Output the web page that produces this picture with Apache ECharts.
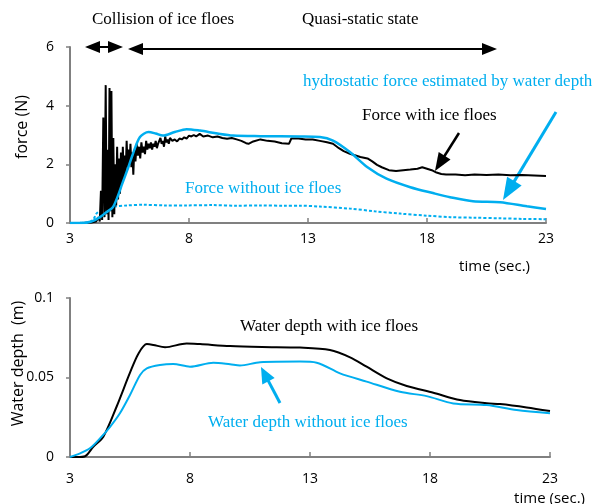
<!DOCTYPE html>
<html>
<head>
<meta charset="utf-8">
<script src="https://cdn.jsdelivr.net/npm/echarts@6/dist/echarts.min.js"></script>
<style>
  html, body { margin: 0; padding: 0; background: #fff; }
  #main { width: 600px; height: 504px; }
</style>
</head>
<body>
<div id="main"></div>
<script>
// force with ice floes (black, noisy)
var tIce = [3.0, 3.5, 3.9, 4.1, 4.2, 4.25, 4.3, 4.35, 4.4, 4.45, 4.5, 4.54, 4.58, 4.62, 4.66, 4.7, 4.74, 4.78, 4.82, 4.86,
  4.9, 4.94, 4.98, 5.02, 5.06, 5.1, 5.14, 5.18, 5.22, 5.26, 5.3, 5.34, 5.38, 5.42, 5.46, 5.5, 5.54, 5.58, 5.62, 5.66,
  5.7, 5.75, 5.8, 5.85, 5.9, 5.95, 6.0, 6.05, 6.1, 6.15, 6.2, 6.25, 6.3, 6.35, 6.4, 6.45, 6.5, 6.55, 6.6, 6.65,
  6.7, 6.75, 6.8, 6.85, 6.9, 6.95, 7.0, 7.05, 7.1, 7.15, 7.2, 7.3, 7.4, 7.5, 7.6, 7.7, 7.8, 7.9, 8.0, 8.1,
  8.2, 8.3, 8.45, 8.6, 8.8, 9.0, 9.2, 9.4, 9.6, 9.8, 10.0, 10.2, 10.4, 10.5, 10.7, 11.0, 11.3, 11.6, 11.9, 12.2,
  12.3, 12.6, 12.9, 13.2, 13.5, 13.8, 14.05, 14.3, 14.5, 14.76, 15.0, 15.2, 15.5, 15.7, 15.9, 16.1, 16.4, 16.7, 17.0, 17.3,
  17.6, 17.8, 18.0, 18.2, 18.4, 18.6, 18.8, 19.2, 19.6, 20.0, 20.5, 21.0, 21.5, 22.0, 22.5, 23.0];
var fIce = [0, 0, 0.02, 0.05, 0.2, 0.05, 1.1, 0.1, 3.6, 0.2, 4.7, 0.3, 2.5, 0.1, 4.6, 0.4, 4.5, 0.2, 2.9, 0.3,
  2.0, 0.6, 2.6, 0.8, 2.2, 1.0, 2.4, 1.3, 2.6, 1.5, 2.3, 1.7, 2.8, 1.9, 2.5, 2.0, 2.7, 1.9, 2.4, 1.65,
  2.5, 2.1, 2.7, 2.3, 2.6, 2.2, 2.75, 2.4, 2.6, 2.35, 2.8, 2.5, 2.7, 2.55, 2.75, 2.5, 2.7, 2.6, 2.8, 2.55,
  2.7, 2.65, 2.9, 2.7, 2.8, 2.6, 2.95, 2.75, 2.85, 2.7, 2.9, 2.8, 2.85, 2.78, 2.88, 2.85, 2.92, 2.88, 2.98, 2.95,
  3.0, 2.95, 3.04, 2.95, 2.98, 2.92, 2.95, 2.9, 2.87, 2.9, 2.85, 2.8, 2.72, 2.7, 2.78, 2.85, 2.8, 2.78, 2.72, 2.7,
  2.88, 2.88, 2.85, 2.85, 2.8, 2.75, 2.7, 2.55, 2.45, 2.36, 2.3, 2.25, 2.2, 2.1, 1.98, 1.9, 1.8, 1.77, 1.8, 1.82,
  1.85, 1.9, 1.85, 1.8, 1.72, 1.67, 1.65, 1.65, 1.63, 1.65, 1.64, 1.65, 1.63, 1.64, 1.62, 1.6];

// hydrostatic force estimated by water depth (blue solid)
var tHydro = [3, 3.5, 3.9, 4.26, 4.5, 4.8, 5.0, 5.2, 5.45, 5.65, 5.94, 6.3, 6.6, 6.9, 7.4, 7.9, 8.46, 9.2, 9.85, 11,
  12.66, 13.5, 14.05, 14.76, 15.5, 16.3, 17.3, 18.25, 18.97, 19.93, 21.07, 22.2, 23];
var fHydro = [0, 0, 0.05, 0.2, 0.35, 0.54, 0.9, 1.35, 1.9, 2.37, 2.93, 3.1, 3.05, 2.98, 3.1, 3.2, 3.15, 3.05, 2.98, 2.96,
  2.95, 2.93, 2.81, 2.42, 1.9, 1.51, 1.22, 1.02, 0.88, 0.74, 0.71, 0.57, 0.48];

// force without ice floes (blue dotted)
var tNoIce = [3, 3.8, 4.0, 4.12, 4.3, 4.55, 4.8, 5.4, 6.07, 7.0, 7.9, 9, 10, 11, 12, 12.66, 13.5, 14.76, 15.8, 16.87,
  18, 18.97, 20, 21.07, 22, 23];
var fNoIce = [0, 0.02, 0.15, 0.33, 0.42, 0.5, 0.55, 0.6, 0.62, 0.6, 0.6, 0.61, 0.59, 0.6, 0.59, 0.59, 0.56, 0.49, 0.4, 0.32,
  0.25, 0.2, 0.18, 0.16, 0.14, 0.13];

// water depth with ice floes (black)
var tDepthIce = [3, 3.3, 3.63, 3.97, 4.39, 4.94, 5.5, 5.85, 6.2, 6.47, 6.96, 7.86, 8.42, 9.67, 11, 12.58, 13.83, 14.67, 15.36, 16.2,
  17.03, 18.14, 19.25, 20.36, 20.92, 22.03, 23];
var dIce = [0, 0, 0.0005, 0.0064, 0.0128, 0.0316, 0.053, 0.065, 0.071, 0.0705, 0.069, 0.0714, 0.071, 0.0698, 0.0692, 0.0688, 0.0673, 0.0627, 0.0568, 0.0495,
  0.0447, 0.0404, 0.0358, 0.0338, 0.0333, 0.0312, 0.0289];

// water depth without ice floes (blue)
var tDepthNoIce = [3, 3.42, 3.83, 4.25, 4.67, 5.08, 5.5, 5.92, 6.2, 6.75, 7.3, 8, 8.97, 9.67, 10.08, 10.92, 12.58, 13.28, 14.25, 15.36,
  16.75, 17.86, 18.97, 20.36, 21.61, 23];
var dNoIce = [0, 0.0023, 0.0055, 0.0117, 0.019, 0.0275, 0.039, 0.0516, 0.0558, 0.0579, 0.0585, 0.0568, 0.0593, 0.0583, 0.0575, 0.0596, 0.06, 0.0593, 0.0526, 0.0474,
  0.041, 0.0383, 0.0337, 0.0327, 0.0296, 0.0275];

var xTicks = { min: 3, max: 23, interval: 5 };

function zip(a, b) {
  return a.map(function (v, i) { return [v, b[i]]; });
}

var BLUE = '#00AEEF';
var GRAY = '#808080';
var SANS = 'Open Sans';
var SERIF = 'Liberation Serif';

function arrow(x1, y1, x2, y2, color, headLen, headW, width) {
  var dx = x2 - x1, dy = y2 - y1, len = Math.sqrt(dx * dx + dy * dy);
  var ux = dx / len, uy = dy / len;
  var bx = x2 - ux * headLen, by = y2 - uy * headLen;
  return [
    { type: 'line', shape: { x1: x1, y1: y1, x2: bx + ux * 2, y2: by + uy * 2 }, style: { stroke: color, lineWidth: width } },
    { type: 'polygon', shape: { points: [[x2, y2], [bx - uy * headW / 2, by + ux * headW / 2], [bx + uy * headW / 2, by - ux * headW / 2]] }, style: { fill: color } }
  ];
}

function label(text, x, y, color) {
  return { type: 'text', left: x, top: y, style: { text: text, fill: color, font: '17px "' + SERIF + '"' } };
}

var myChart = echarts.init(document.getElementById('main'));

var xAxisBase = function (idx, nameGap, namePad) {
  return {
    type: 'value', gridIndex: idx, min: xTicks.min, max: xTicks.max, interval: xTicks.interval,
    name: 'time (sec.)', nameLocation: 'end', nameGap: nameGap, nameMoveOverlap: false,
    nameTextStyle: { fontFamily: SANS, fontSize: 15, color: '#000', align: 'right', verticalAlign: 'top', padding: [namePad, 0, 0, 0] },
    axisLine: { show: true, lineStyle: { color: GRAY, width: 2 } },
    axisTick: { show: true, inside: true, length: 5, lineStyle: { color: GRAY, width: 1.5 } },
    splitLine: { show: false },
    axisLabel: { color: '#000', fontFamily: SANS, fontSize: 14, margin: idx === 0 ? 9 : 15 }
  };
};

var yAxisBase = function (idx, max, interval, name, gap, shift) {
  return {
    type: 'value', gridIndex: idx, min: 0, max: max, interval: interval,
    name: name, nameLocation: 'middle', nameGap: gap, nameMoveOverlap: false,
    nameTextStyle: { fontFamily: SANS, fontSize: 16, color: '#000', padding: [0, 0, 0, shift] },
    axisLine: { show: true, lineStyle: { color: GRAY, width: 2 } },
    axisTick: { show: true, inside: false, length: 4, lineStyle: { color: GRAY, width: 1.5 } },
    splitLine: { show: false },
    axisLabel: { color: '#000', fontFamily: SANS, fontSize: 14, margin: 16 }
  };
};

var graphics = [].concat(
  label('Collision of ice floes', 92, 11, '#000'),
  label('Quasi-static state', 302, 11, '#000'),
  label('hydrostatic force estimated by water depth', 303, 73, BLUE),
  label('Force with ice floes', 362, 107, '#000'),
  label('Force without ice floes', 185, 180, BLUE),
  label('Water depth with ice floes', 240, 318, '#000'),
  label('Water depth without ice floes', 208, 414, BLUE),
  arrow(104, 47, 85, 47, '#000', 15, 12, 2),
  arrow(104, 47, 123, 47, '#000', 15, 12, 2),
  arrow(300, 49, 128, 49, '#000', 15, 12, 2),
  arrow(300, 49, 497, 49, '#000', 15, 12, 2),
  arrow(459, 133, 435, 171, '#000', 18, 14, 2.5),
  arrow(556, 112, 503, 200, BLUE, 22, 17, 3),
  arrow(280, 403, 261, 367, BLUE, 16, 14, 3)
);

myChart.setOption({
  animation: false,
  grid: [
    { left: 70, right: 54, top: 47, height: 176, outerBoundsMode: 'none' },
    { left: 70, right: 50, top: 298, height: 159, outerBoundsMode: 'none' }
  ],
  xAxis: [xAxisBase(0, -16, 36), xAxisBase(1, 35, 34)],
  yAxis: [yAxisBase(0, 6, 2, 'force (N)', 40, 16), yAxisBase(1, 0.1, 0.05, 'Water depth  (m)', 44, 28)],
  graphic: graphics,
  series: [
    {
      name: 'Force without ice floes', type: 'line', xAxisIndex: 0, yAxisIndex: 0, showSymbol: false,
      data: zip(tNoIce, fNoIce), smooth: 0.3,
      lineStyle: { color: BLUE, width: 2, type: [3, 2] }
    },
    {
      name: 'Force with ice floes', type: 'line', xAxisIndex: 0, yAxisIndex: 0, showSymbol: false,
      data: zip(tIce, fIce),
      lineStyle: { color: '#000', width: 2 }
    },
    {
      name: 'hydrostatic force estimated by water depth', type: 'line', xAxisIndex: 0, yAxisIndex: 0, showSymbol: false,
      data: zip(tHydro, fHydro), smooth: 0.3,
      lineStyle: { color: BLUE, width: 2.5 }
    },
    {
      name: 'Water depth with ice floes', type: 'line', xAxisIndex: 1, yAxisIndex: 1, showSymbol: false,
      data: zip(tDepthIce, dIce), smooth: 0.3,
      lineStyle: { color: '#000', width: 2 }
    },
    {
      name: 'Water depth without ice floes', type: 'line', xAxisIndex: 1, yAxisIndex: 1, showSymbol: false,
      data: zip(tDepthNoIce, dNoIce), smooth: 0.3,
      lineStyle: { color: BLUE, width: 2 }
    }
  ]
});
</script>
</body>
</html>
